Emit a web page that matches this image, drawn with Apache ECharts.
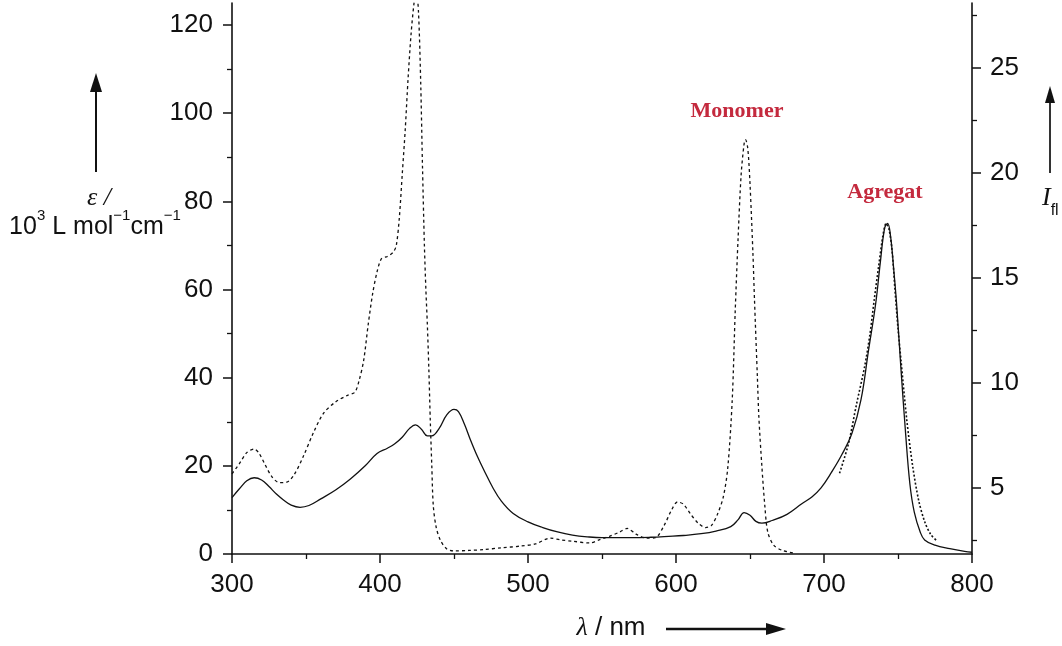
<!DOCTYPE html>
<html>
<head>
<meta charset="utf-8">
<script src="https://cdn.jsdelivr.net/npm/echarts@6/dist/echarts.min.js"></script>
<style>
  html, body { margin: 0; padding: 0; background: #fff; }
  #main { width: 1062px; height: 646px; }
</style>
</head>
<body>
<div id="main"></div>
<script>
// solid line: aggregate absorption (left axis, 10^3 L mol-1 cm-1)
var aggLambda = [300, 305, 310, 315, 320, 325, 330, 335, 340, 346, 352, 360, 370, 380, 390, 398, 405, 410, 415, 420,
  424, 428, 432, 435, 440, 445, 450, 453, 457, 461, 466, 471, 476, 482, 490, 500, 510, 520, 530, 540,
  550, 560, 570, 583, 595, 605, 617, 627, 637, 642, 646, 650, 654, 658, 665, 675, 685, 692, 698, 705,
  712, 719, 725, 730, 735, 738, 741, 743, 745, 747, 749, 752, 755, 758, 761, 765, 768, 775, 785, 795, 800];
var aggEps = [12.8, 14.8, 16.6, 17.3, 16.8, 15.3, 13.6, 12.2, 11.1, 10.6, 11.0, 12.5, 14.5, 17.0, 20.0, 22.8, 24.0, 25.0, 26.5, 28.5,
  29.3, 28.3, 26.8, 26.8, 28.5, 31.5, 32.8, 32.3, 29.5, 26.0, 22.0, 18.5, 15.2, 12.0, 9.2, 7.3, 6.0, 5.0, 4.3, 3.9,
  3.7, 3.7, 3.7, 3.8, 4.0, 4.2, 4.6, 5.2, 6.2, 7.8, 9.4, 8.8, 7.4, 7.0, 7.6, 9.0, 11.4, 13.0, 15.0, 18.5,
  22.5, 27.5, 35, 46, 57, 66, 74, 75, 72, 65, 57, 42, 28, 16, 9.5, 5.0, 3.2, 2.0, 1.2, 0.6, 0.4];

// dotted line: monomer absorption (left axis)
var monLambda = [300, 305, 310, 315, 318, 322, 327, 332, 337, 342, 348, 355, 362, 370, 378, 383, 386, 389, 392, 395,
  398, 401, 405, 409, 411, 413, 415, 417, 419, 421, 423, 424.5, 426, 427.5, 428.7, 430, 431, 432, 433, 434,
  435, 436, 438, 441, 445, 450, 460, 470, 482, 495, 505, 515, 522, 530, 542, 548, 555, 562, 567, 573,
  580, 586, 592, 597, 601, 605, 610, 615, 620, 624, 628, 632, 635, 638, 640, 642, 644, 646, 647, 648.5,
  650, 652, 653, 655, 656, 658, 660, 662, 666, 672, 680];
var monEps = [18.2, 20.5, 23.0, 23.8, 23.0, 20.5, 17.5, 16.2, 16.3, 18.0, 22.0, 27.5, 32.0, 34.5, 36.0, 36.7, 39.5, 44, 52, 59,
  64, 67, 67.5, 68.5, 70, 76, 86, 96, 108, 118, 125, 128, 123, 107, 88, 70, 60, 52, 42, 30,
  20, 11, 6, 3, 1.2, 0.7, 0.8, 1.0, 1.4, 1.8, 2.3, 3.6, 3.2, 2.9, 2.5, 3.2, 4.0, 5.0, 5.8, 4.5,
  3.6, 3.7, 6.5, 10.0, 11.8, 11.3, 9.0, 7.0, 6.0, 6.5, 9.0, 13, 19.6, 35, 55, 72, 86, 93, 94, 92,
  84, 68, 58, 40, 31, 20, 11, 5, 2, 0.8, 0.2];

// dotted line: aggregate fluorescence (right axis, I_fl)
var flLambda = [710.5, 716.5, 722, 727.5, 731, 734, 737, 740, 742, 744, 746, 748, 750, 752, 756, 760, 764, 768, 772, 776];
var flInt = [5.7, 7.1, 9.0, 10.8, 12.3, 14.0, 15.6, 17.1, 17.6, 17.3, 16.3, 14.4, 12.6, 11.1, 8.2, 6.0, 4.4, 3.4, 2.8, 2.5];

var xTicks = [300, 400, 500, 600, 700, 800];
var leftTicks = [0, 20, 40, 60, 80, 100, 120];
var leftMinor = [10, 30, 50, 70, 90, 110];
var rightTicks = [5, 10, 15, 20, 25];
var rightMinor = [2.5, 7.5, 12.5, 17.5, 22.5, 27.5];

function zip(xs, ys) {
  var out = [];
  for (var i = 0; i < xs.length; i++) {
    out.push([xs[i], ys[i]]);
  }
  return out;
}

var FONT = '"Liberation Sans", Arial, sans-serif';
var chart = echarts.init(document.getElementById('main'));

var lineAxis = { show: true, lineStyle: { color: '#111', width: 1.6 } };
var lbl = { color: '#111', fontSize: 26, fontFamily: FONT };

var option = {
  backgroundColor: '#fff',
  animation: false,
  grid: { left: 232, right: 90, top: 3, bottom: 92 },
  xAxis: {
    type: 'value',
    min: 300,
    max: 800,
    interval: 100,
    axisLine: { show: true, onZero: false, lineStyle: { color: '#111', width: 1.6 } },
    axisTick: { show: true, length: 9, lineStyle: { color: '#111', width: 1.5 } },
    minorTick: { show: true, splitNumber: 2, length: 5, lineStyle: { color: '#111', width: 1.3 } },
    axisLabel: Object.assign({ margin: 18, customValues: xTicks }, lbl),
    splitLine: { show: false }
  },
  yAxis: [{
    type: 'value',
    position: 'left',
    min: 0,
    max: 125,
    axisLine: lineAxis,
    axisTick: { show: true, length: 9, customValues: leftTicks, lineStyle: { color: '#111', width: 1.5 } },
    axisLabel: Object.assign({ margin: 19, customValues: leftTicks }, lbl),
    splitLine: { show: false }
  }, {
    type: 'value',
    position: 'right',
    min: 1.857,
    max: 28.1,
    axisLine: lineAxis,
    axisTick: { show: true, length: 9, customValues: rightTicks, lineStyle: { color: '#111', width: 1.5 } },
    axisLabel: Object.assign({ margin: 18, customValues: rightTicks }, lbl),
    splitLine: { show: false }
  }, {
    // minor ticks, left
    type: 'value',
    position: 'left',
    min: 0,
    max: 125,
    axisLine: { show: false },
    axisTick: { show: true, length: 5, customValues: leftMinor, lineStyle: { color: '#111', width: 1.3 } },
    axisLabel: { show: false },
    splitLine: { show: false }
  }, {
    // minor ticks, right
    type: 'value',
    position: 'right',
    min: 1.857,
    max: 28.1,
    axisLine: { show: false },
    axisTick: { show: true, length: 5, customValues: rightMinor, lineStyle: { color: '#111', width: 1.3 } },
    axisLabel: { show: false },
    splitLine: { show: false }
  }],
  series: [{
    name: 'Agregat',
    type: 'line',
    yAxisIndex: 0,
    data: zip(aggLambda, aggEps),
    showSymbol: false,
    smooth: 0.4,
    lineStyle: { color: '#111', width: 1.3 }
  }, {
    name: 'Monomer',
    type: 'line',
    yAxisIndex: 0,
    data: zip(monLambda, monEps),
    showSymbol: false,
    smooth: 0.3,
    lineStyle: { color: '#111', width: 1.3, type: [3, 3] }
  }, {
    name: 'Fluorescence',
    type: 'line',
    yAxisIndex: 1,
    data: zip(flLambda, flInt),
    showSymbol: false,
    smooth: 0.3,
    lineStyle: { color: '#111', width: 1.6, type: [2, 2] }
  }],
  graphic: [
    // left axis name and arrow
    { type: 'line', shape: { x1: 96, y1: 172, x2: 96, y2: 88 }, style: { stroke: '#111', lineWidth: 2 } },
    { type: 'polygon', shape: { points: [[96, 73], [90, 92], [102, 92]] }, style: { fill: '#111' } },
    { type: 'text', x: 99, y: 198, style: { text: 'ε /', font: 'italic 26px "Liberation Serif", serif', fill: '#111', align: 'center', verticalAlign: 'middle', textAlign: 'center', textVerticalAlign: 'middle' } },
    { type: 'text', x: 95, y: 224, style: {
      text: '{b|10}{s|3}{b| L mol}{s|−1}{b|cm}{s|−1}',
      align: 'center', verticalAlign: 'middle', textAlign: 'center', textVerticalAlign: 'middle',
      rich: {
        b: { fontSize: 25, fontFamily: FONT, fill: '#111', color: '#111', lineHeight: 32, verticalAlign: 'bottom' },
        s: { fontSize: 15, fontFamily: FONT, fill: '#111', color: '#111', verticalAlign: 'top' }
      }
    } },
    // right axis name and arrow
    { type: 'line', shape: { x1: 1050, y1: 173, x2: 1050, y2: 100 }, style: { stroke: '#333', lineWidth: 2 } },
    { type: 'polygon', shape: { points: [[1050, 86], [1045, 103], [1055, 103]] }, style: { fill: '#111' } },
    { type: 'text', x: 1042, y: 202, style: {
      text: '{i|I}{s|fl}',
      align: 'left', verticalAlign: 'middle', textAlign: 'left', textVerticalAlign: 'middle',
      rich: {
        i: { fontSize: 26, fontFamily: '"Liberation Serif", serif', fontStyle: 'italic', fill: '#111', color: '#111', lineHeight: 34, verticalAlign: 'top' },
        s: { fontSize: 16, fontFamily: FONT, fill: '#111', color: '#111', verticalAlign: 'bottom' }
      }
    } },
    // x axis name and arrow
    { type: 'text', x: 611, y: 628, style: {
      text: '{i|λ}{b| / nm}',
      align: 'center', verticalAlign: 'middle', textAlign: 'center', textVerticalAlign: 'middle',
      rich: {
        i: { fontSize: 26, fontFamily: '"Liberation Serif", serif', fontStyle: 'italic', fill: '#111', color: '#111' },
        b: { fontSize: 26, fontFamily: FONT, fill: '#111', color: '#111' }
      }
    } },
    { type: 'line', shape: { x1: 666, y1: 629, x2: 770, y2: 629 }, style: { stroke: '#111', lineWidth: 2.5 } },
    { type: 'polygon', shape: { points: [[786, 629], [766, 623], [766, 635]] }, style: { fill: '#111' } },
    // peak labels
    { type: 'text', x: 737, y: 111, style: { text: 'Monomer', font: 'bold 22px "Liberation Serif", serif', fill: '#c42a3e', align: 'center', verticalAlign: 'middle', textAlign: 'center', textVerticalAlign: 'middle' } },
    { type: 'text', x: 885, y: 192, style: { text: 'Agregat', font: 'bold 22px "Liberation Serif", serif', fill: '#c42a3e', align: 'center', verticalAlign: 'middle', textAlign: 'center', textVerticalAlign: 'middle' } }
  ]
};

chart.setOption(option);
</script>
</body>
</html>
